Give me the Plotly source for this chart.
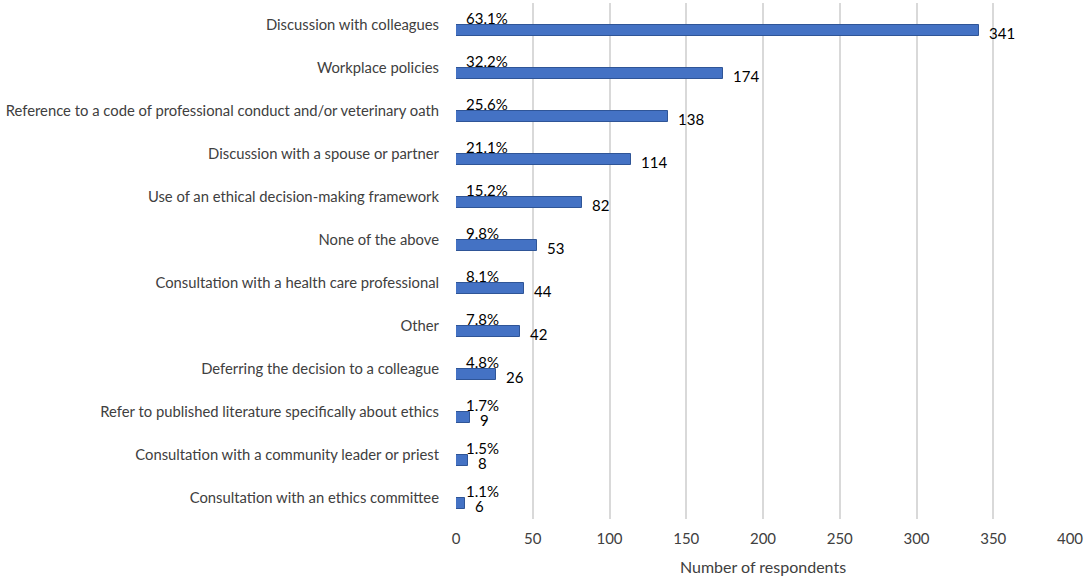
import plotly.graph_objects as go

categories = [
    "Discussion with colleagues",
    "Workplace policies",
    "Reference to a code of professional conduct and/or veterinary oath",
    "Discussion with a spouse or partner",
    "Use of an ethical decision-making framework",
    "None of the above",
    "Consultation with a health care professional",
    "Other",
    "Deferring the decision to a colleague",
    "Refer to published literature specifically about ethics",
    "Consultation with a community leader or priest",
    "Consultation with an ethics committee",
]
counts = [341, 174, 138, 114, 82, 53, 44, 42, 26, 9, 8, 6]
percents = ["63.1%", "32.2%", "25.6%", "21.1%", "15.2%", "9.8%",
            "8.1%", "7.8%", "4.8%", "1.7%", "1.5%", "1.1%"]

font = "Lato, Open Sans, sans-serif"

fig = go.Figure()
# bar sits a little below the category centre, as in the Excel original
fig.add_trace(go.Bar(
    x=counts, y=categories, orientation="h", width=0.24, offset=0.02,
    marker=dict(color="#4472C4", line=dict(color="#2F5597", width=1)),
    hoverinfo="x+y",
))

# count labels to the right of each bar, percent labels above the bar start
for cat, n, p in zip(categories, counts, percents):
    fig.add_annotation(x=n, y=cat, text=str(n), showarrow=False,
                       xanchor="left", yanchor="middle", xshift=8, yshift=-8,
                       font=dict(size=15, color="#000000", family=font))
    fig.add_annotation(x=0, y=cat, text=p, showarrow=False,
                       xanchor="left", yanchor="middle", xshift=8, yshift=7,
                       font=dict(size=15, color="#000000", family=font))

fig.update_layout(
    width=1084, height=577,
    margin=dict(l=456, r=14, t=3, b=58),
    plot_bgcolor="white", paper_bgcolor="white",
    showlegend=False,
    font=dict(family=font, size=15, color="#404040"),
    bargap=0,
)
fig.update_xaxes(
    range=[0, 400], dtick=50, showgrid=True, gridcolor="#D9D9D9", gridwidth=2,
    zeroline=False, showline=False, ticks="", automargin=False,
    ticklabelstandoff=9, ticklabeloverflow="allow",
    tickfont=dict(size=15, color="#404040"),
    title=dict(text="Number of respondents", font=dict(size=16, color="#404040"), standoff=15),
)
fig.update_yaxes(
    categoryorder="array", categoryarray=categories, autorange="reversed",
    showgrid=False, showline=False, ticks="", ticklabelstandoff=16, automargin=False,
    tickfont=dict(size=14.8, color="#404040"),
)

# drop the browser's default 8px body margin so the figure fills the window
fig.write_html("out.html", config={"displayModeBar": False},
               post_script="document.body.style.margin = '0';")
